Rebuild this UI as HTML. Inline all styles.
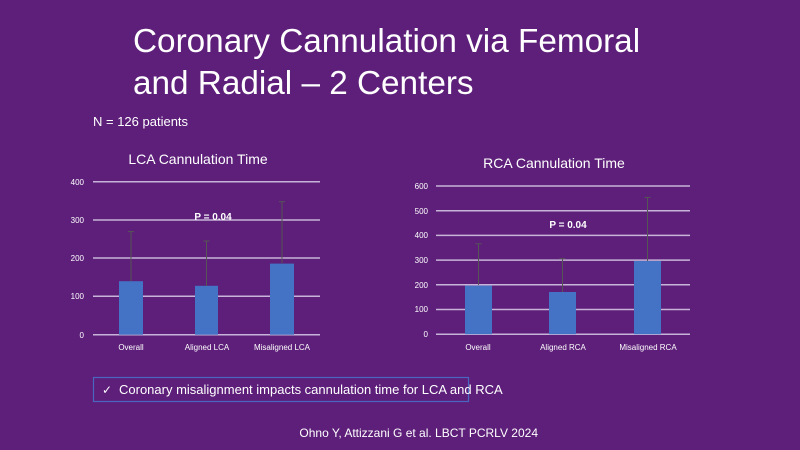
<!DOCTYPE html>
<html><head><meta charset="utf-8"><style>
html,body{margin:0;padding:0;background:#5d1f79;}
svg{display:block;font-family:"Liberation Sans",sans-serif;}
</style></head><body>
<svg width="800" height="450" viewBox="0 0 800 450">
<rect width="800" height="450" fill="#5d1f79"/>
<text x="133" y="52" font-size="33.3" fill="#fff">Coronary Cannulation via Femoral</text>
<text x="133" y="94" font-size="33.3" fill="#fff">and Radial – 2 Centers</text>
<text x="93" y="126" font-size="13" fill="#fff">N = 126 patients</text>

<!-- LCA -->
<text x="198" y="164" font-size="14" fill="#fff" text-anchor="middle">LCA Cannulation Time</text>
<g stroke="#c8b4d9" stroke-width="1.5">
<line x1="93" y1="181.7" x2="320" y2="181.7"/>
<line x1="93" y1="220" x2="320" y2="220"/>
<line x1="93" y1="258" x2="320" y2="258"/>
<line x1="93" y1="296.3" x2="320" y2="296.3"/>
<line x1="93" y1="334.7" x2="320" y2="334.7"/>
</g>
<g font-size="8" fill="#fff" text-anchor="end">
<text x="84" y="185">400</text><text x="84" y="223">300</text><text x="84" y="261">200</text><text x="84" y="299">100</text><text x="84" y="338">0</text>
</g>
<g fill="#4472c4">
<rect x="119" y="281.2" width="24" height="53.5"/>
<rect x="195" y="285.8" width="23" height="48.9"/>
<rect x="270" y="263.6" width="24" height="71.1"/>
</g>
<g stroke="#555" stroke-width="1">
<line x1="131" y1="281" x2="131" y2="231.6"/><line x1="128" y1="231.6" x2="134" y2="231.6"/>
<line x1="206.5" y1="286" x2="206.5" y2="241"/><line x1="203.5" y1="241" x2="209.5" y2="241"/>
<line x1="282" y1="263" x2="282" y2="201.7"/><line x1="279" y1="201.7" x2="285" y2="201.7"/>
</g>
<text x="213" y="220" font-size="10" font-weight="bold" fill="#fff" text-anchor="middle">P = 0.04</text>
<g font-size="8" fill="#fff" text-anchor="middle">
<text x="131" y="350">Overall</text><text x="207" y="350">Aligned LCA</text><text x="282" y="350">Misaligned LCA</text>
</g>

<!-- RCA -->
<text x="554" y="168" font-size="14" fill="#fff" text-anchor="middle">RCA Cannulation Time</text>
<g stroke="#c8b4d9" stroke-width="1.5">
<line x1="436" y1="186" x2="690" y2="186"/>
<line x1="436" y1="210.7" x2="690" y2="210.7"/>
<line x1="436" y1="235.4" x2="690" y2="235.4"/>
<line x1="436" y1="260.1" x2="690" y2="260.1"/>
<line x1="436" y1="284.8" x2="690" y2="284.8"/>
<line x1="436" y1="309.5" x2="690" y2="309.5"/>
<line x1="436" y1="334.2" x2="690" y2="334.2"/>
</g>
<g font-size="8" fill="#fff" text-anchor="end">
<text x="428" y="189">600</text><text x="428" y="214">500</text><text x="428" y="238">400</text><text x="428" y="263">300</text><text x="428" y="288">200</text><text x="428" y="312">100</text><text x="428" y="337">0</text>
</g>
<g fill="#4472c4">
<rect x="465" y="285.6" width="27" height="48.6"/>
<rect x="549" y="292" width="27" height="42.2"/>
<rect x="634" y="261" width="27" height="73.2"/>
</g>
<g stroke="#555" stroke-width="1">
<line x1="478.5" y1="285" x2="478.5" y2="243.8"/><line x1="475.5" y1="243.8" x2="481.5" y2="243.8"/>
<line x1="562.5" y1="292" x2="562.5" y2="258.7"/><line x1="559.5" y1="258.7" x2="565.5" y2="258.7"/>
<line x1="647.5" y1="261" x2="647.5" y2="197.4"/><line x1="644.5" y1="197.4" x2="650.5" y2="197.4"/>
</g>
<text x="568" y="228" font-size="10" font-weight="bold" fill="#fff" text-anchor="middle">P = 0.04</text>
<g font-size="8" fill="#fff" text-anchor="middle">
<text x="478" y="350">Overall</text><text x="563" y="350">Aligned RCA</text><text x="648" y="350">Misaligned RCA</text>
</g>

<rect x="93.5" y="377.5" width="375" height="24" fill="none" stroke="#4a66c0" stroke-width="1.2"/>
<text x="102" y="394" font-size="12" fill="#fff">✓</text>
<text x="119" y="394" font-size="13" fill="#fff">Coronary misalignment impacts cannulation time for LCA and RCA</text>
<text x="538" y="437" font-size="12" fill="#fff" text-anchor="end">Ohno Y, Attizzani G et al. LBCT PCRLV 2024</text>
</svg>
</body></html>
